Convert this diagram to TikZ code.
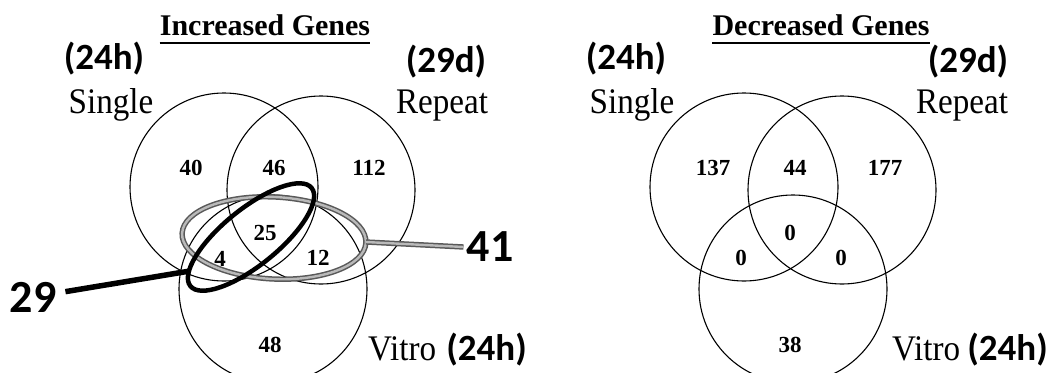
\documentclass[tikz,border=0pt]{standalone}
\usepackage{fontspec}
\setmainfont{Liberation Serif}
\newfontfamily\labelfont[FakeStretch=0.92]{Liberation Serif}
\newfontfamily\calfont{Carlito}
\begin{document}
\begin{tikzpicture}[x=1pt,y=1pt,
  venn/.style={circle, draw=black, line width=1.1pt, minimum size=188pt, inner sep=0pt},
  num/.style={font=\bfseries\fontsize{23}{23}\selectfont, inner sep=0pt},
  setlabel/.style={font=\labelfont\fontsize{36}{36}\selectfont, inner sep=0pt, anchor=base},
  timelabel/.style={font=\calfont\bfseries\fontsize{37}{37}\selectfont, inner sep=0pt, anchor=base},
  titletext/.style={font=\bfseries\fontsize{30}{30}\selectfont, inner sep=0pt, anchor=base},
  uline/.style={line width=1.6pt},
  bignum/.style={font=\calfont\bfseries\fontsize{46}{46}\selectfont, inner sep=3pt},
  blackring/.style={draw=black, line width=4.5pt},
  grayring/.style={draw=black!65, line width=1.5pt, double=gray!55, double distance=2.4pt},
]
\useasboundingbox (0,0) rectangle (1049,-372);

% ---------- Increased genes ----------
\node[titletext] (tL) at (265,-35) {Increased Genes};
\draw[uline] ([yshift=-8pt]tL.base west) -- ([yshift=-8pt]tL.base east);

\node[venn] (sL) at (224,-187) {};
\node[venn] (rL) at (321,-190) {};
\node[venn] (vL) at (273,-289) {};

\node[timelabel] (hL1) at (104,-69) {(24h)};
\node[setlabel] (snL) at (111,-113) {Single};
\node[timelabel] (dL) at (446,-72) {(29d)};
\node[setlabel] (rpL) at (442,-113) {Repeat};
\node[setlabel, anchor=base west] (vtL) at (368,-360) {Vitro};
\node[timelabel, anchor=base east] (hL2) at (527,-360) {(24h)};

\node[num] (a40) at (191,-168) {40};
\node[num] (a46) at (274,-168) {46};
\node[num] (a112) at (369,-168) {112};
\node[num] (a25) at (265,-233) {25};
\node[num] (a4) at (220,-259) {4};
\node[num] (a12) at (318,-258) {12};
\node[num] (a48) at (270,-345) {48};

% highlight rings
\draw[grayring] (274,-238) ellipse [x radius=92pt, y radius=41pt, rotate=-3];
\draw[blackring] (251,-237) ellipse [x radius=78pt, y radius=28pt, rotate=39];
\coordinate (bEnd) at (190,-271);
\coordinate (gEnd) at (366,-242);

\node[bignum] (n29) at (33,-297) {29};
\node[bignum] (n41) at (490,-247) {41};
\draw[black, line width=5.5pt, shorten <=6pt] (n29) -- (bEnd);
\draw[grayring] (gEnd) -- (n41.west);

% ---------- Decreased genes ----------
\node[titletext] (tR) at (821,-35) {Decreased Genes};
\draw[uline] ([yshift=-8pt]tR.base west) -- ([yshift=-8pt]tR.base east);

\node[venn] (sR) at (744,-187) {};
\node[venn] (rR) at (842,-190) {};
\node[venn] (vR) at (793,-289) {};

\node[timelabel] (hR1) at (626,-69) {(24h)};
\node[setlabel] (snR) at (632,-113) {Single};
\node[timelabel] (dR) at (968,-72) {(29d)};
\node[setlabel] (rpR) at (962,-113) {Repeat};
\node[setlabel, anchor=base west] (vtR) at (892,-360) {Vitro};
\node[timelabel, anchor=base east] (hR2) at (1048,-360) {(24h)};

\node[num] (b137) at (713,-168) {137};
\node[num] (b44) at (795,-168) {44};
\node[num] (b177) at (885,-168) {177};
\node[num] (b0c) at (790,-233) {0};
\node[num] (b0l) at (741,-258) {0};
\node[num] (b0r) at (841,-258) {0};
\node[num] (b38) at (790,-345) {38};
\end{tikzpicture}
\end{document}
